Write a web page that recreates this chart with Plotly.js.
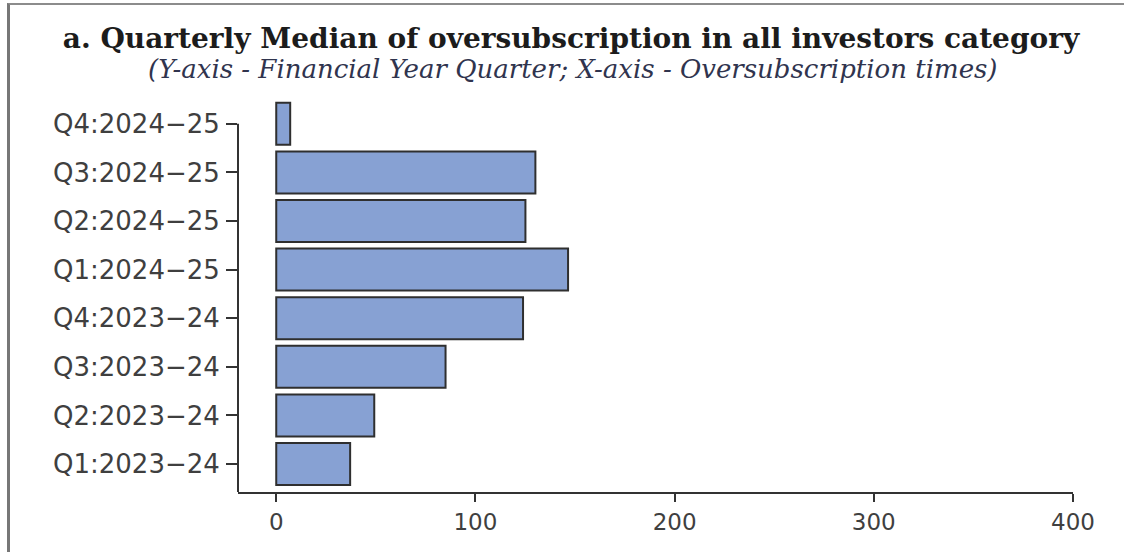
<!DOCTYPE html>
<html>
<head>
<meta charset="utf-8">
<script src="https://cdn.plot.ly/plotly-3.0.1.min.js"></script>
<style>
  html, body { margin: 0; padding: 0; background: #ffffff; }
  #wrap { position: relative; width: 1124px; height: 552px; overflow: hidden; }
  #chart { position: absolute; left: 0; top: 0; width: 1124px; height: 552px; }
  #frame { position: absolute; left: 7px; top: 3px; width: 1124px; height: 547px;
           border-top: 2px solid #8c8c8c; border-left: 3px solid #777777;
           border-bottom: 1px solid #e4e4e4; pointer-events: none; }
</style>
</head>
<body>
<div id="wrap">
  <div id="chart"></div>
  <div id="frame"></div>
</div>
<script>
// Data (bottom to top)
const quarters = ["Q1:2023−24", "Q2:2023−24", "Q3:2023−24", "Q4:2023−24",
                  "Q1:2024−25", "Q2:2024−25", "Q3:2024−25", "Q4:2024−25"];
const medianOversubscription = [37.1, 49.2, 85.0, 123.9, 146.5, 125.1, 130.1, 7.0];
const xTickValues = [0, 100, 200, 300, 400];
const xTickLabels = ["0", "100", "200", "300", "400"];

const titleText = "<b>a. Quarterly Median of oversubscription in all investors category</b>";
const subtitleText = "<i>(Y-axis - Financial Year Quarter; X-axis - Oversubscription times)</i>";

const trace = {
  type: "bar",
  orientation: "h",
  x: medianOversubscription,
  y: quarters,
  marker: { color: "#87a1d3", line: { color: "#2f2f2f", width: 2 } },
  hoverinfo: "x+y"
};

const yBottom = -0.576;
const layout = {
  width: 1124,
  height: 552,
  paper_bgcolor: "rgba(0,0,0,0)",
  plot_bgcolor: "#ffffff",
  margin: { l: 238, r: 51, t: 100, b: 60, pad: 0 },
  showlegend: false,
  bargap: 0.136,
  title: {
    text: titleText,
    font: { family: "DejaVu Serif, serif", size: 28, color: "#1c1c1c" },
    x: 571 / 1124, xanchor: "center",
    xref: "container",
    y: 1 - 38 / 552, yref: "container", yanchor: "middle"
  },
  annotations: [{
    text: subtitleText,
    xref: "paper", yref: "paper",
    x: 0.401, xanchor: "center",
    y: 1 + 31 / 392, yanchor: "middle",
    showarrow: false,
    font: { family: "DejaVu Serif, serif", size: 26, color: "#30344e" }
  }],
  xaxis: {
    range: [-19.2, 400],
    tickvals: xTickValues,
    ticktext: xTickLabels,
    ticks: "outside",
    ticklen: 8,
    tickwidth: 2,
    tickcolor: "#333333",
    showline: true,
    linecolor: "#333333",
    linewidth: 2,
    showgrid: false,
    zeroline: false,
    tickfont: { family: "DejaVu Sans, sans-serif", size: 23, color: "#3f3f3f" },
    fixedrange: true
  },
  yaxis: {
    type: "category",
    categoryorder: "array",
    categoryarray: quarters,
    range: [yBottom, 7.49],
    ticks: "outside",
    ticklen: 11,
    tickwidth: 2,
    tickcolor: "#333333",
    showline: false,
    showgrid: false,
    zeroline: false,
    tickfont: { family: "DejaVu Sans, sans-serif", size: 26, color: "#3f3f3f" },
    ticklabelstandoff: 1,
    fixedrange: true
  },
  shapes: [{
    type: "line",
    xref: "paper", x0: 0, x1: 0,
    yref: "y", y0: yBottom, y1: quarters.length - 1,
    line: { color: "#333333", width: 2 },
    layer: "above"
  }]
};

Plotly.newPlot("chart", [trace], layout, { displayModeBar: false, staticPlot: true });
</script>
</body>
</html>
